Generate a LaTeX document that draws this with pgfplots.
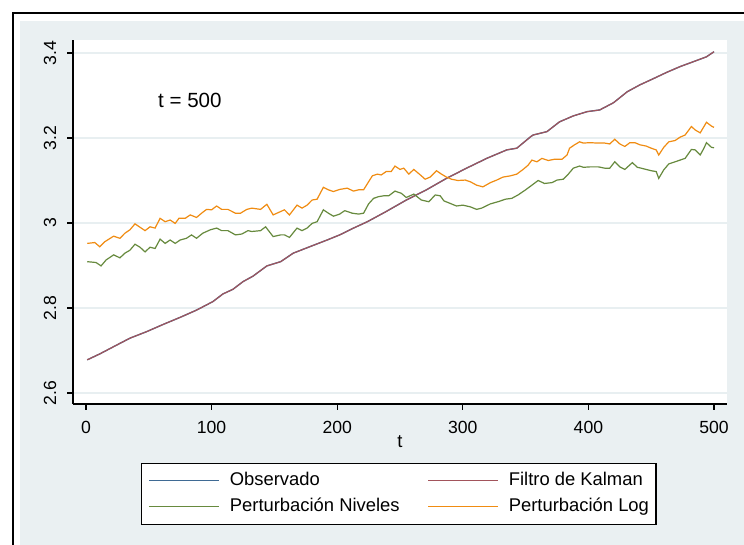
\documentclass[border=0pt]{standalone}
\usepackage{fontspec}
\setmainfont{Liberation Sans}
\usepackage{pgfplots}
\pgfplotsset{compat=1.18}
\usepackage{pgfplotstable}

\definecolor{stbg}{HTML}{EAF0F2}
\definecolor{gridc}{HTML}{E8EFF1}
\definecolor{obsblue}{HTML}{3F6A94}
\definecolor{kalred}{HTML}{A2545B}
\definecolor{nivgreen}{HTML}{678A3E}
\definecolor{logorange}{HTML}{F08C12}

\pgfplotstableread{
t v
1 2.678
11 2.692
22 2.709
35 2.729
48 2.744
62 2.762
75 2.778
88 2.795
101 2.815
109 2.833
117 2.844
125 2.862
133 2.875
144 2.899
155 2.909
165 2.929
178 2.944
192 2.960
202 2.972
213 2.988
224 3.003
239 3.027
255 3.054
271 3.078
287 3.105
303 3.129
319 3.152
335 3.172
343 3.176
354 3.203
356 3.207
367 3.215
377 3.238
388 3.252
399 3.262
409 3.266
420 3.283
431 3.309
441 3.325
452 3.340
462 3.354
473 3.368
484 3.380
494 3.391
500 3.403
}\obs

\pgfplotstableread{
t v
1 2.909
8 2.907
12 2.899
16 2.913
22 2.925
27 2.918
31 2.929
35 2.936
39 2.950
43 2.943
47 2.932
51 2.943
55 2.940
59 2.962
63 2.952
67 2.960
71 2.952
75 2.960
80 2.964
84 2.972
88 2.964
93 2.976
99 2.984
104 2.988
108 2.982
113 2.982
119 2.972
124 2.974
129 2.982
132 2.980
139 2.982
143 2.991
149 2.968
155 2.972
158 2.972
162 2.966
168 2.988
172 2.982
176 2.988
180 2.999
184 3.003
189 3.031
193 3.023
197 3.016
202 3.021
206 3.029
212 3.023
217 3.021
221 3.023
225 3.045
229 3.058
233 3.062
237 3.064
241 3.064
246 3.075
251 3.070
255 3.060
261 3.068
267 3.054
273 3.050
278 3.066
282 3.064
285 3.052
290 3.046
295 3.040
300 3.042
306 3.038
311 3.032
315 3.035
322 3.045
328 3.050
334 3.056
339 3.058
344 3.066
350 3.078
355 3.089
360 3.100
365 3.093
371 3.095
375 3.101
380 3.103
384 3.115
388 3.129
393 3.134
396 3.131
401 3.132
408 3.132
413 3.129
417 3.129
421 3.144
425 3.132
429 3.126
435 3.142
439 3.131
442 3.129
446 3.126
450 3.123
454 3.121
456 3.105
460 3.125
464 3.139
469 3.144
473 3.148
477 3.152
482 3.173
485 3.172
489 3.160
492 3.176
494 3.189
498 3.178
500 3.177
}\niv

\pgfplotstableread{
t v
1 2.952
7 2.954
11 2.944
15 2.956
22 2.969
27 2.964
31 2.976
35 2.984
39 2.998
43 2.990
47 2.982
51 2.991
55 2.988
59 3.011
63 3.003
67 3.007
71 2.999
74 3.011
79 3.011
83 3.019
88 3.013
92 3.023
96 3.032
100 3.031
104 3.040
108 3.032
113 3.032
119 3.023
123 3.023
128 3.032
132 3.035
139 3.032
144 3.044
149 3.019
155 3.027
158 3.031
162 3.019
168 3.042
172 3.035
176 3.042
180 3.054
184 3.056
189 3.084
193 3.078
197 3.074
202 3.079
208 3.082
213 3.075
217 3.078
221 3.078
225 3.097
228 3.111
232 3.115
235 3.113
239 3.121
243 3.121
246 3.134
250 3.126
253 3.129
257 3.115
261 3.126
267 3.111
270 3.103
274 3.108
279 3.123
283 3.115
287 3.108
291 3.103
296 3.100
302 3.101
306 3.097
311 3.089
316 3.085
322 3.095
327 3.101
332 3.108
338 3.111
343 3.115
348 3.126
352 3.136
355 3.148
359 3.144
363 3.152
368 3.147
373 3.150
379 3.150
383 3.160
385 3.176
389 3.184
393 3.191
396 3.188
401 3.189
408 3.188
413 3.188
417 3.186
421 3.197
425 3.186
429 3.180
433 3.189
437 3.189
441 3.184
446 3.181
450 3.176
454 3.172
456 3.160
460 3.178
464 3.191
469 3.194
473 3.202
477 3.207
482 3.227
485 3.219
489 3.212
492 3.227
494 3.237
498 3.228
500 3.225
}\logp

\begin{document}
\begin{tikzpicture}
\useasboundingbox (0,0) rectangle (558pt,408.75pt);
\clip (0,0) rectangle (558pt,408.75pt);
\fill[white] (0,0) rectangle (558pt,408.75pt);
\draw[black, line width=1pt] (9.75pt,-10pt) -- (9.75pt,399pt) -- (570pt,399pt);
\fill[stbg] (15pt,-10pt) rectangle (570pt,393pt);
\begin{axis}[
  at={(54.75pt,105.75pt)}, anchor=south west,
  width=490.5pt, height=273pt, scale only axis,
  xmin=-10.35, xmax=510.35, ymin=2.5741, ymax=3.4306,
  axis x line*=bottom, axis y line*=left,
  axis line style={black, line width=1pt},
  axis background/.style={fill=white},
  xtick={0,100,200,300,400,500},
  ytick={2.6,2.8,3,3.2,3.4},
  tick align=outside, major tick length=4.5pt,
  tick style={black, line width=1pt},
  ymajorgrids, grid style={gridc, line width=1pt},
  /pgf/number format/assume math mode=true,
  ticklabel style={font=\fontsize{13.2}{15}\selectfont},
  yticklabel style={rotate=90, anchor=south, yshift=4.5pt},
  xticklabel style={yshift=-5pt},
  xlabel={t},
  xlabel style={font=\fontsize{13.8}{16}\selectfont, at={(axis description cs:0.5,0)}, anchor=base, yshift=-33pt},
  legend columns=2,
  legend cell align=left,
  legend image code/.code={\draw[#1] (0pt,0pt) -- (52.5pt,0pt);},
  legend style={at={(0.104,-0.162)}, anchor=north west, draw=black, line width=0.8pt, fill=white,
    font=\fontsize{13.8}{16}\selectfont,
    inner xsep=5.25pt, inner ysep=6.5pt,
    nodes={inner sep=0pt, text height=10pt, text depth=3pt},
    row sep=6.5pt,
    /tikz/every odd column/.append style={column sep=7.5pt},
    /tikz/every even column/.append style={column sep=21pt}},
]
\addplot[obsblue, line width=1pt] table[x=t,y=v]{\obs};
\addlegendentry{Observado}
\addplot[kalred, line width=0.85pt] table[x=t,y=v]{\obs};
\addlegendentry{Filtro de Kalman}
\addplot[nivgreen, line width=0.9pt] table[x=t,y=v]{\niv};
\addlegendentry{Perturbación Niveles}
\addplot[logorange, line width=0.9pt] table[x=t,y=v]{\logp};
\addlegendentry{Perturbación Log}
\node[anchor=base west, inner sep=0pt, font=\fontsize{15.4}{18}\selectfont] at (axis cs:57.3,3.272) {t = 500};
\end{axis}
\end{tikzpicture}
\end{document}
